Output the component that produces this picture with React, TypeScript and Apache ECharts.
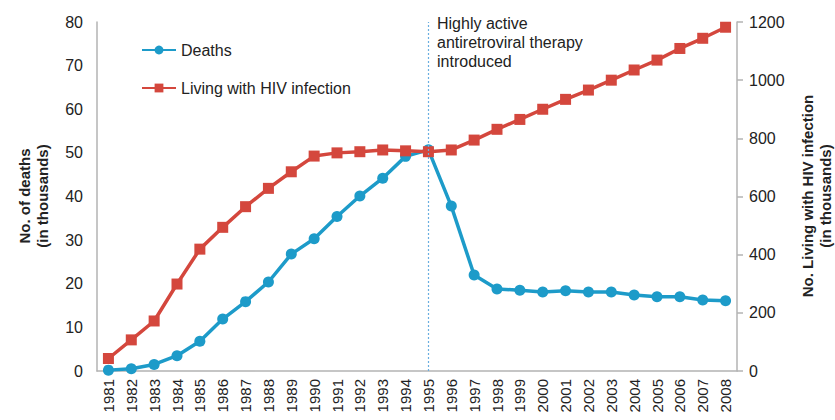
import React, { useEffect, useRef } from "react";
import * as echarts from "echarts";

const years = [
  "1981", "1982", "1983", "1984", "1985", "1986", "1987", "1988", "1989", "1990",
  "1991", "1992", "1993", "1994", "1995", "1996", "1997", "1998", "1999", "2000",
  "2001", "2002", "2003", "2004", "2005", "2006", "2007", "2008",
];

const deaths = [
  0.2, 0.5, 1.5, 3.5, 6.8, 11.9, 15.9, 20.4, 26.8, 30.3,
  35.4, 40.1, 44.2, 49.2, 50.7, 37.8, 22.0, 18.8, 18.5, 18.1,
  18.4, 18.1, 18.1, 17.4, 17.0, 17.0, 16.3, 16.1,
];

const living = [
  43, 107, 172, 299, 419, 494, 565, 628, 685, 739,
  750, 754, 760, 757, 754, 760, 794, 831, 865, 900,
  934, 966, 1000, 1035, 1069, 1109, 1144, 1182,
];

const leftTicks = { min: 0, max: 80, interval: 10 };
const rightTicks = { min: 0, max: 1200, interval: 200 };

const annotationLines = ["Highly active", "antiretroviral therapy", "introduced"];
const annotationYear = "1995";

const FONT = "Liberation Sans, Arial, Helvetica, sans-serif";
const BLUE = "#1d9bc9";
const RED = "#d4473d";
const AXIS = "#b3b3b3";
const TEXT = "#222222";

export default function App() {
  const ref = useRef<HTMLDivElement>(null);

  useEffect(() => {
    document.body.style.margin = "0";
    if (!ref.current) return;
    const chart = echarts.init(ref.current, undefined, { renderer: "svg" });
    chart.setOption({
      animation: false,
      backgroundColor: "#ffffff",
      textStyle: { fontFamily: FONT },
      grid: { left: 97, right: 98, top: 22, bottom: 49, containLabel: false },
      legend: {
        orient: "vertical",
        left: 136,
        top: 37,
        itemWidth: 34,
        itemHeight: 11,
        itemGap: 22,
        textStyle: { fontSize: 16, color: TEXT, fontFamily: FONT },
        data: ["Deaths", "Living with HIV infection"],
      },
      xAxis: {
        type: "category",
        data: years,
        boundaryGap: true,
        axisLine: { show: true, lineStyle: { color: AXIS, width: 1.5 } },
        axisTick: { show: false },
        axisLabel: {
          rotate: 90,
          interval: 0,
          fontSize: 15,
          color: TEXT,
          margin: 8,
          fontFamily: FONT,
        },
      },
      yAxis: [
        {
          type: "value",
          min: leftTicks.min,
          max: leftTicks.max,
          interval: leftTicks.interval,
          position: "left",
          splitLine: { show: false },
          axisLine: { show: true, lineStyle: { color: AXIS, width: 1.5 } },
          axisTick: { show: false },
          axisLabel: { fontSize: 16, color: TEXT, margin: 14, fontFamily: FONT },
        },
        {
          type: "value",
          min: rightTicks.min,
          max: rightTicks.max,
          interval: rightTicks.interval,
          position: "right",
          splitLine: { show: false },
          axisLine: { show: true, lineStyle: { color: AXIS, width: 1.5 } },
          axisTick: { show: true, length: 6, lineStyle: { color: AXIS, width: 1.5 } },
          axisLabel: {
            fontSize: 16,
            color: TEXT,
            margin: 12,
            fontFamily: FONT,
            formatter: (v: number) => String(v),
          },
        },
      ],
      series: [
        {
          name: "Deaths",
          type: "line",
          yAxisIndex: 0,
          data: deaths,
          symbol: "circle",
          symbolSize: 11,
          color: BLUE,
          lineStyle: { color: BLUE, width: 3.5 },
          itemStyle: { color: BLUE },
          markLine: {
            silent: true,
            symbol: "none",
            label: { show: false },
            lineStyle: { color: "#6aaee0", type: [2, 2], width: 1.2 },
            data: [{ xAxis: annotationYear }],
          },
        },
        {
          name: "Living with HIV infection",
          type: "line",
          yAxisIndex: 1,
          data: living,
          symbol: "rect",
          symbolSize: 11,
          color: RED,
          lineStyle: { color: RED, width: 3.5 },
          itemStyle: { color: RED },
        },
      ],
      graphic: [
        {
          type: "text",
          left: 437,
          top: 14,
          style: {
            text: annotationLines.join("\n"),
            fontSize: 16,
            lineHeight: 19,
            fill: TEXT,
            fontFamily: FONT,
          },
        },
        {
          type: "text",
          x: 33,
          y: 196,
          rotation: Math.PI / 2,
          style: {
            text: "No. of deaths\n(in thousands)",
            fontSize: 15,
            fontWeight: "bold",
            lineHeight: 18,
            fill: TEXT,
            align: "center",
            verticalAlign: "middle",
            fontFamily: FONT,
          },
        },
        {
          type: "text",
          x: 816,
          y: 196,
          rotation: Math.PI / 2,
          style: {
            text: "No. Living with HIV infection\n(in thousands)",
            fontSize: 15,
            fontWeight: "bold",
            lineHeight: 18,
            fill: TEXT,
            align: "center",
            verticalAlign: "middle",
            fontFamily: FONT,
          },
        },
      ],
    });
    return () => chart.dispose();
  }, []);

  return <div ref={ref} style={{ width: 835, height: 420 }} />;
}
